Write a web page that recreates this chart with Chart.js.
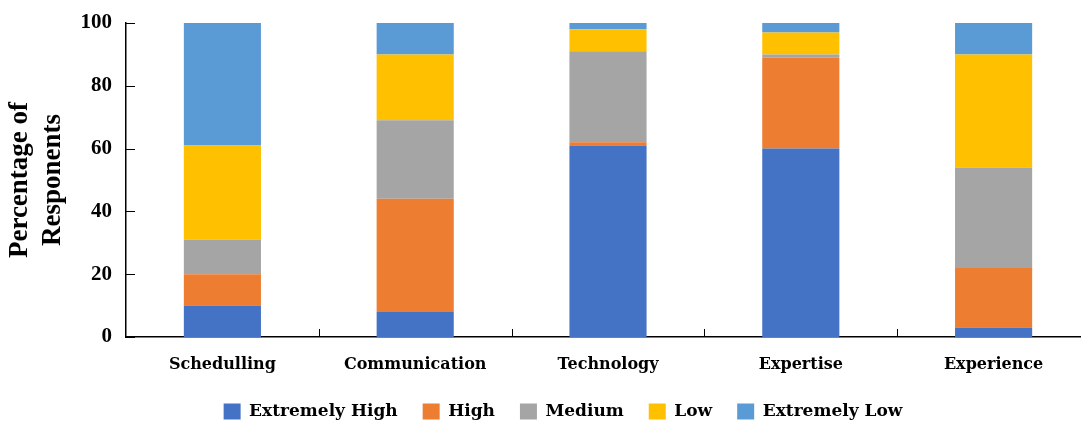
<!DOCTYPE html>
<html>
<head>
<meta charset="utf-8">
<script src="https://cdn.jsdelivr.net/npm/chart.js@4.4.1/dist/chart.umd.min.js"></script>
<style>
  html, body { margin: 0; padding: 0; background: #fff; overflow: hidden; }
  #wrap { width: 1090px; height: 426px; }
</style>
</head>
<body>
<div id="wrap"><canvas id="chart" width="1090" height="426"></canvas></div>
<script>
// categories and series (percent of responses)
const categories = ['Schedulling', 'Communication', 'Technology', 'Expertise', 'Experience'];
const extremelyHigh = [10, 8, 61, 60, 3];
const high = [10, 36, 1, 29, 19];
const medium = [11, 25, 29, 1, 32];
const low = [30, 21, 7, 7, 36];
const extremelyLow = [39, 10, 2, 3, 10];
const yTicks = [0, 20, 40, 60, 80, 100];

const times = '"Liberation Serif", "Times New Roman", serif';
const wide = '"DejaVu Serif", Georgia, serif';

// small inward tick marks on both axes
const inwardTicks = {
    id: 'inwardTicks',
    afterDraw(chart) {
        const ctx = chart.ctx;
        const x = chart.scales.x, y = chart.scales.y;
        ctx.save();
        ctx.strokeStyle = '#000';
        ctx.lineWidth = 1;
        yTicks.forEach(v => {
            const py = Math.round(y.getPixelForValue(v)) + 0.5;
            ctx.beginPath();
            ctx.moveTo(x.left, py);
            ctx.lineTo(x.left + 9, py);
            ctx.stroke();
        });
        for (let i = 1; i < categories.length; i++) {
            const px = Math.round((x.getPixelForValue(i - 1) + x.getPixelForValue(i)) / 2) + 0.5;
            ctx.beginPath();
            ctx.moveTo(px, y.bottom);
            ctx.lineTo(px, y.bottom - 8);
            ctx.stroke();
        }
        ctx.restore();
    }
};

new Chart(document.getElementById('chart'), {
    type: 'bar',
    data: {
        labels: categories,
        datasets: [
            { label: 'Extremely High', data: extremelyHigh, backgroundColor: '#4472C4' },
            { label: 'High', data: high, backgroundColor: '#ED7D31' },
            { label: 'Medium', data: medium, backgroundColor: '#A5A5A5' },
            { label: 'Low', data: low, backgroundColor: '#FFC000' },
            { label: 'Extremely Low', data: extremelyLow, backgroundColor: '#5B9BD5' }
        ]
    },
    options: {
        responsive: false,
        animation: false,
        layout: { padding: { top: 23, right: 0, left: 36, bottom: -4 } },
        datasets: { bar: { barPercentage: 0.8, categoryPercentage: 0.5 } },
        plugins: {
            tooltip: { enabled: false },
            legend: {
                position: 'bottom',
                labels: {
                    font: { family: wide, size: 17, weight: 'bold', lineHeight: 0.9 },
                    color: '#000',
                    boxWidth: 17,
                    boxHeight: 16,
                    padding: 25
                }
            }
        },
        scales: {
            x: {
                stacked: true,
                grid: { display: false, drawTicks: false },
                border: { color: '#000', width: 1.5 },
                ticks: { font: { family: wide, size: 16, weight: 'bold' }, color: '#000', padding: 18 },
                afterFit(scale) { scale.height = 41; }
            },
            y: {
                stacked: true,
                min: 0,
                max: 100,
                grid: { display: false, drawTicks: false },
                border: { color: '#000', width: 1.5 },
                ticks: {
                    stepSize: 20,
                    font: { family: times, size: 21, weight: 'bold' },
                    color: '#000',
                    padding: 14
                },
                title: {
                    display: true,
                    text: ['Percentage of', 'Responents'],
                    font: { family: times, size: 27, weight: 'bold' },
                    color: '#000',
                    padding: { top: -32, bottom: 0 }
                },
                afterFit(scale) {
                    scale.width = 90;
                    scale.paddingTop = 0;
                    scale.paddingBottom = 0;
                }
            }
        }
    },
    plugins: [inwardTicks]
});
</script>
</body>
</html>
